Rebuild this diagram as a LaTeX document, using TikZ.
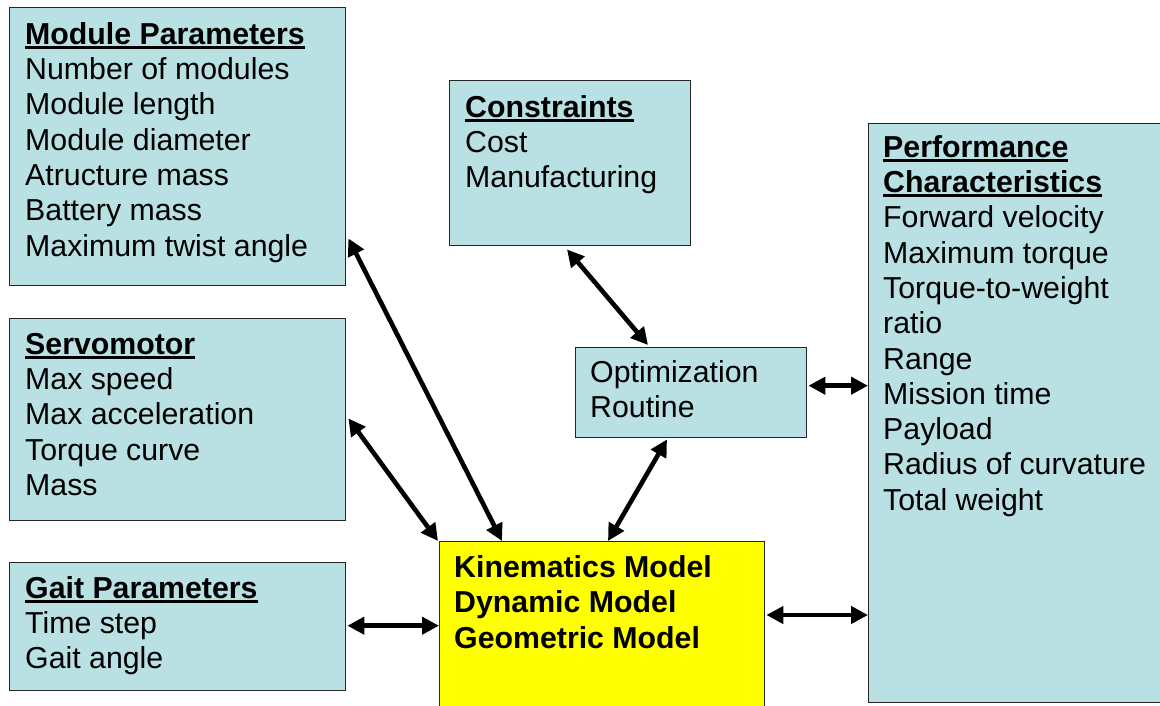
\documentclass[tikz,border=0pt]{standalone}
\usepackage{fontspec}
\setmainfont{Liberation Sans}
\usetikzlibrary{arrows.meta,calc}
\definecolor{boxblue}{RGB}{185,224,227}
\definecolor{modelyellow}{RGB}{255,255,0}
% bold heading with a thick underline
\newcommand\hdline[1]{\setbox0=\hbox{\bfseries #1}\rlap{\rule[-4.5pt]{\wd0}{3pt}}\box0}
% fixes the height of the first text line
\newcommand\firstline{\rule{0pt}{27pt}}
\begin{document}
\begin{tikzpicture}[x=1pt,y=-1pt,
  box/.style={draw=black!85, line width=1.4pt, fill=boxblue, anchor=north west, inner sep=0pt},
  txt/.style={anchor=north west, inner sep=0pt, align=left, font=\fontsize{30.3}{35.3}\selectfont},
  boldtxt/.style={txt, font=\fontsize{30.3}{35.5}\selectfont\bfseries},
  link/.style={line width=4.6pt, {Triangle[length=17pt,width=17pt]}-{Triangle[length=17pt,width=17pt]}}]
\clip (0,0) rectangle (1160,705);

% boxes
\node[box, minimum width=336pt, minimum height=278pt] (mod) at (9,7) {};
\node[box, minimum width=241pt, minimum height=165pt] (con) at (449,80) {};
\node[box, minimum width=360pt, minimum height=579pt] (perf) at (868,123) {};
\node[box, minimum width=336pt, minimum height=202pt] (servo) at (9,318) {};
\node[box, minimum width=231pt, minimum height=90pt] (opt) at (575,347) {};
\node[box, minimum width=336pt, minimum height=128pt] (gait) at (9,562) {};
\node[box, fill=modelyellow, minimum width=325pt, minimum height=180pt] (kin) at (439,541) {};

% box texts
\node[txt] (modt) at ([shift={(16,10)}]mod.north west)
  {\firstline\hdline{Module Parameters}\\ Number of modules\\ Module length\\ Module diameter\\ Atructure mass\\ Battery mass\\ Maximum twist angle};
\node[txt] (cont) at ([shift={(16,10)}]con.north west)
  {\firstline\hdline{Constraints}\\ Cost\\ Manufacturing};
\node[txt] (perft) at ([shift={(15,7)}]perf.north west)
  {\firstline\hdline{Performance}\\ \hdline{Characteristics}\\ Forward velocity\\ Maximum torque\\ Torque-to-weight\\ ratio\\ Range\\ Mission time\\ Payload\\ Radius of curvature\\ Total weight};
\node[txt] (servot) at ([shift={(16,9)}]servo.north west)
  {\firstline\hdline{Servomotor}\\ Max speed\\ Max acceleration\\ Torque curve\\ Mass};
\node[txt] (optt) at ([shift={(15,8)}]opt.north west)
  {\firstline Optimization\\ Routine};
\node[txt] (gaitt) at ([shift={(16,9)}]gait.north west)
  {\firstline\hdline{Gait Parameters}\\ Time step\\ Gait angle};
\node[boldtxt] (kint) at ([shift={(15,9)}]kin.north west)
  {\firstline Kinematics Model\\ Dynamic Model\\ Geometric Model};

% connectors
\draw[link] ([shift={(2,-48)}]mod.south east) -- ([shift={(63,0)}]kin.north west);
\draw[link] ([shift={(2,-103)}]servo.south east) -- ([shift={(-1,0)}]kin.north west);
\draw[link] ([shift={(92,1)}]opt.south west) -- ([shift={(169,0)}]kin.north west);
\draw[link] ([shift={(118,3)}]con.south west) -- ([shift={(73,-2)}]opt.north west);
\coordinate (optr) at ([shift={(1,-7)}]opt.east);
\draw[link] (optr) -- (optr -| perf.west);
\coordinate (gaitr) at ([shift={(1,-1)}]gait.east);
\draw[link] (gaitr) -- (gaitr -| kin.west);
\coordinate (kinr) at ([shift={(1,74)}]kin.north east);
\draw[link] (kinr) -- (kinr -| perf.west);
\end{tikzpicture}
\end{document}
